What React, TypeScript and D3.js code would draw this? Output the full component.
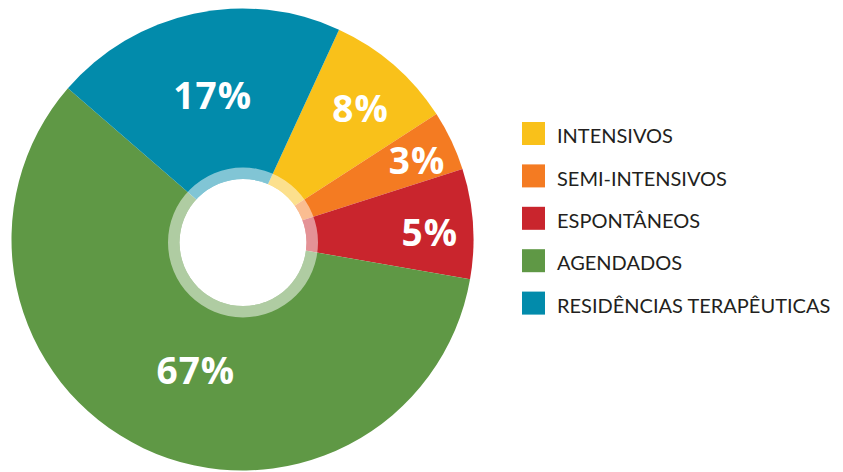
import React, { useEffect, useRef } from 'react';
import * as d3 from 'd3';

// slice shares as drawn (percent of the circle) and the printed labels
const categories = ['INTENSIVOS', 'SEMI-INTENSIVOS', 'ESPONTÂNEOS', 'AGENDADOS', 'RESIDÊNCIAS TERAPÊUTICAS'];
const shares = [9.0, 4.2, 7.7, 58.6, 20.5];
const labels = ['8%', '3%', '5%', '67%', '17%'];
const colors = ['#F9C11A', '#F47B22', '#C9252D', '#5F9845', '#028BAB'];

// label placement: radius and angle nudge (degrees) per slice
const labelRadius = [176, 191, 187, 139, 147];
const labelNudge = [1, 1, 1.7, -5.6, 0.3];

export default function App() {
  const ref = useRef<SVGSVGElement>(null);

  useEffect(() => {
    const cx = 242.5, cy = 239.5, outer = 231;
    const svg = d3.select(ref.current);
    svg.selectAll('*').remove();

    const startDeg = 24.7;
    const pie = d3.pie<number>()
      .value(d => d)
      .sort(null)
      .startAngle(startDeg * Math.PI / 180)
      .endAngle((startDeg + 360) * Math.PI / 180);
    const arcs = pie(shares);

    const arc = d3.arc<d3.PieArcDatum<number>>()
      .innerRadius(0)
      .outerRadius(outer);

    const g = svg.append('g').attr('transform', `translate(${cx},${cy})`);
    g.selectAll('path.slice')
      .data(arcs)
      .enter()
      .append('path')
      .attr('class', 'slice')
      .attr('d', arc)
      .attr('fill', (d, i) => colors[i]);

    // translucent ring + white hole
    const hole = svg.append('g').attr('transform', `translate(243,242.5)`);
    hole.append('path')
      .attr('d', d3.arc()({ innerRadius: 63.5, outerRadius: 75, startAngle: 0, endAngle: 2 * Math.PI }) as string)
      .attr('fill', '#fff')
      .attr('opacity', 0.5);
    hole.append('circle').attr('r', 63.5).attr('fill', '#fff');

    // percentage labels
    g.selectAll('text.pct')
      .data(arcs)
      .enter()
      .append('text')
      .attr('class', 'pct')
      .attr('transform', (d, i) => {
        const a = (d.startAngle + d.endAngle) / 2 + labelNudge[i] * Math.PI / 180;
        const r = labelRadius[i];
        return `translate(${r * Math.sin(a) + 0.5},${-r * Math.cos(a)})`;
      })
      .attr('text-anchor', 'middle')
      .attr('dy', '0.36em')
      .style('font-family', '"Open Sans", sans-serif')
      .style('font-weight', 700)
      .style('font-size', '37px')
      .style('letter-spacing', '1px')
      .attr('fill', '#fff')
      .text((d, i) => labels[i]);

    // legend
    const y = d3.scalePoint<string>().domain(categories).range([122, 291.6]);
    const legend = svg.append('g');
    const items = legend.selectAll('g')
      .data(categories)
      .enter()
      .append('g')
      .attr('transform', d => `translate(522,${y(d)})`);
    items.append('rect')
      .attr('width', 23)
      .attr('height', 23)
      .attr('fill', (d, i) => colors[i]);
    items.append('text')
      .attr('x', 35)
      .attr('y', 21.3)
      .style('font-family', 'Lato, sans-serif')
      .style('font-size', '20px')
      .attr('fill', '#231F20')
      .text(d => d);
  }, []);

  return (
    <svg ref={ref} width={843} height={472}
      style={{ position: 'absolute', left: 0, top: 0, background: '#fff' }} />
  );
}
